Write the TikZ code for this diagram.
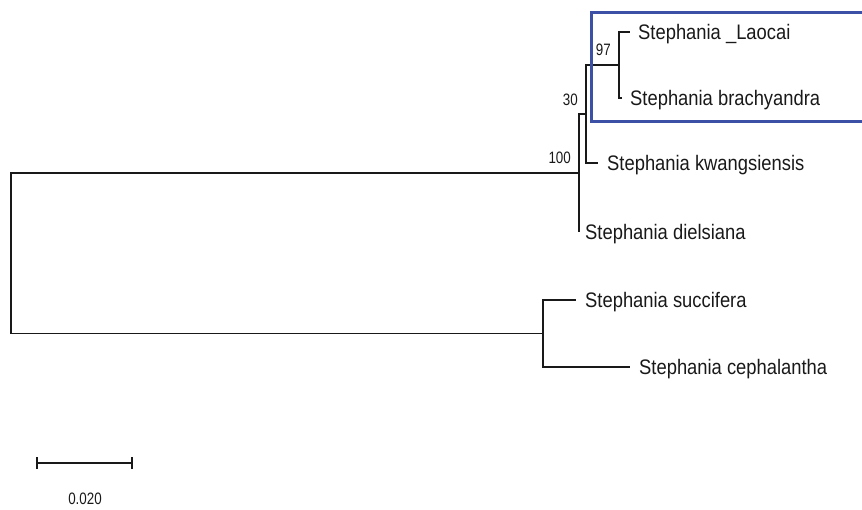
\documentclass[tikz,border=0pt]{standalone}
\usepackage{fontspec}
\usetikzlibrary{positioning}
\newfontfamily\treefont[FakeStretch=0.875]{Liberation Sans}
\newfontfamily\numfont[FakeStretch=0.81]{Liberation Sans}
\definecolor{boxblue}{RGB}{60,80,165}
\definecolor{ink}{gray}{.1}

\begin{document}
\begin{tikzpicture}[x=1pt,y=-1pt,
  branch/.style={draw=ink,line width=1.2pt},
  taxon/.style={inner sep=0pt,anchor=west,text height=15pt,text depth=0pt,
    font=\treefont\fontsize{21}{25}\selectfont,text=ink},
  support/.style={inner sep=0pt,font=\numfont\fontsize{16.5}{20}\selectfont,text=ink}]
\useasboundingbox (0,0) rectangle (862,509);
% internal nodes
\coordinate (root) at (11,253.5);
\coordinate (n100) at (579,173);
\coordinate (n30) at (586,114);
\coordinate (n97) at (619,65);
\coordinate (nsc) at (543,333.5);
% tips
\coordinate (laotip) at (630,32);
\coordinate (brtip) at (622,98);
\coordinate (kwtip) at (598,163);
\coordinate (dietip) at (579,232);
\coordinate (suctip) at (576,300);
\coordinate (cetip) at (630,367);
% branches
\draw[branch] (root) |- (n100);
\draw[branch] (root) |- (nsc);
\draw[branch] (n100) |- (n30);
\draw[branch] (n100) |- (dietip);
\draw[branch] (n30) |- (n97);
\draw[branch] (n30) |- (kwtip);
\draw[branch] (n97) |- (laotip);
\draw[branch] (n97) |- (brtip);
\draw[branch] (nsc) |- (suctip);
\draw[branch] (nsc) |- (cetip);
% taxa
\node[taxon,right=8pt of laotip] (lao) {Stephania \_Laocai};
\node[taxon,right=8pt of brtip] (br) {Stephania brachyandra};
\node[taxon,right=9pt of kwtip] (kw) {Stephania kwangsiensis};
\node[taxon,right=6pt of dietip] (die) {Stephania dielsiana};
\node[taxon,right=9pt of suctip] (suc) {Stephania succifera};
\node[taxon,right=9pt of cetip] (ce) {Stephania cephalantha};
% bootstrap values
\node[support,above left=9pt and 8pt of n97] (b97) {97};
\node[support,above left=8pt and 8pt of n30] (b30) {30};
\node[support,above left=9pt and 8pt of n100] (b100) {100};
% highlight box
\draw[boxblue,line width=3pt] (862,12) -| (591,121.5) -- (862,121.5);
% scale bar
\coordinate (sb1) at (37,463);
\coordinate (sb2) at (132,463);
\draw[branch] (sb1) -- (sb2);
\foreach \p in {sb1,sb2} { \draw[branch] ([yshift=-6pt]\p) -- ([yshift=6pt]\p); }
\node[support] (sblab) at (85,499) {0.020};
\end{tikzpicture}
\end{document}
